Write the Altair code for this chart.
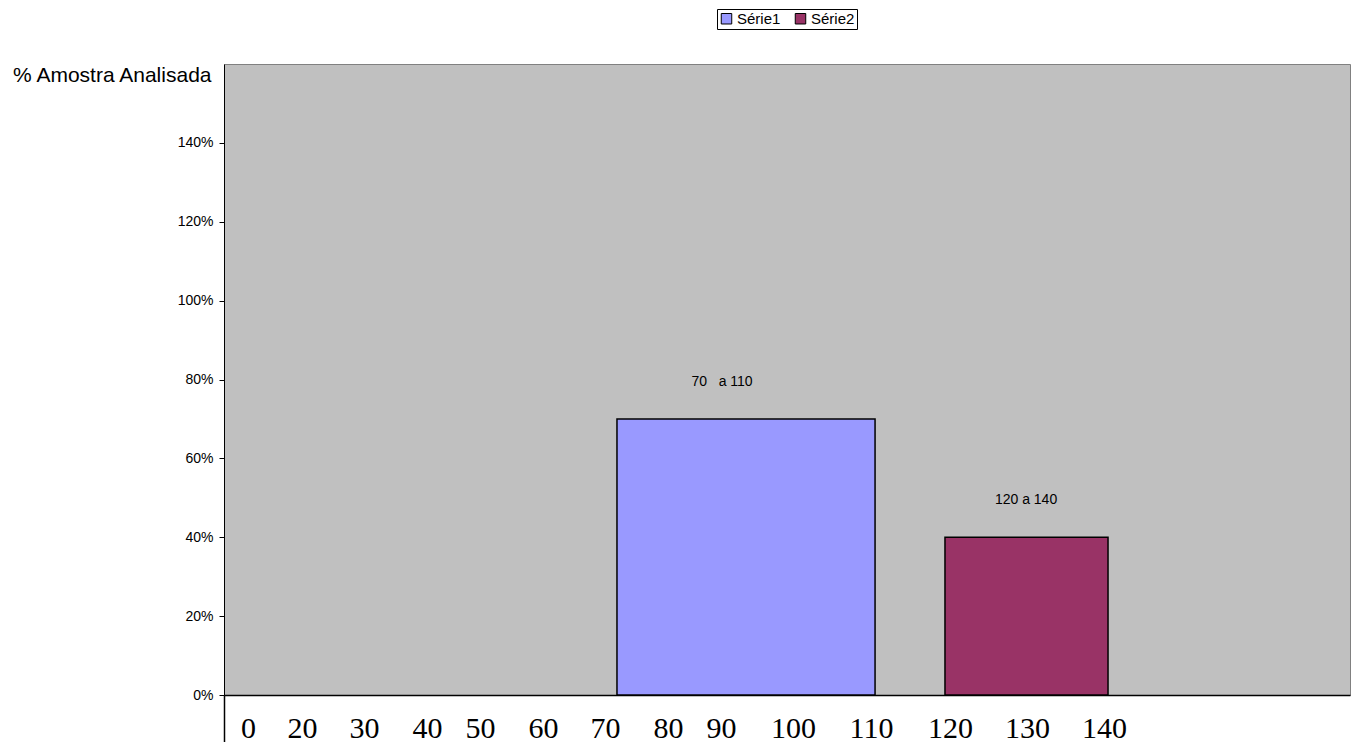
import altair as alt
import pandas as pd

# ---- data ----
series = ["Série1", "Série2"]
values = [0.70, 0.40]
bar_start = [34.90, 64.03]   # horizontal position (0-100 of plot width)
bar_end = [57.82, 78.51]
bar_labels = ["70\u00a0\u00a0 a 110", "120 a 140"]
bar_label_x = [44.23, 71.23]
colors = ["#9999FF", "#993366"]

x_tick_text = ["0", "20", "30", "40", "50", "60", "70", "80", "90", "100", "110", "120", "130", "140"]
x_tick_pos = [2.13, 6.93, 12.43, 18.03, 22.74, 28.33, 33.84, 39.43, 44.14, 50.53, 57.46, 64.48, 71.31, 78.15]
y_ticks = [0, 0.2, 0.4, 0.6, 0.8, 1.0, 1.2, 1.4]

df = pd.DataFrame({
    "serie": series,
    "valor": values,
    "x0": bar_start,
    "x1": bar_end,
    "rotulo": bar_labels,
    "xl": bar_label_x,
})

tick_values = [0] + x_tick_pos
tick_texts = [""] + x_tick_text
label_expr = ("[" + ",".join(f"'{t}'" for t in tick_texts) + "][indexof(["
              + ",".join(str(p) for p in tick_values) + "], datum.value)]")

xscale = alt.Scale(domain=[0, 100], nice=False, zero=False)
yscale = alt.Scale(domain=[0, 1.6], nice=False)

x_axis = alt.Axis(
    values=tick_values, labelExpr=label_expr, title=None, grid=False,
    tickSize=48, tickColor="black", tickWidth=1.5,
    tickOpacity={"condition": {"test": "datum.value == 0", "value": 1}, "value": 0},
    domainColor="black", domainWidth=1.5,
    labelFont="Liberation Serif", labelFontSize=30, labelColor="black",
    labelBaseline="alphabetic", labelPadding=-6,
    labelOverlap=False, labelFlush=False, labelBound=False,
)

y_axis = alt.Axis(
    values=y_ticks, format=".0%", grid=False,
    labelFont="Liberation Sans", labelFontSize=14, labelColor="black", labelPadding=6,
    tickColor="black", tickSize=5, domainColor="black", domainWidth=1,
    title="% Amostra Analisada", titleAngle=0, titleAlign="right", titleBaseline="middle",
    titleX=-13, titleY=11, titleFont="Liberation Sans", titleFontSize=21,
    titleFontWeight="normal", titleColor="black",
)

legend = alt.Legend(
    title=None, orient="none", legendX=493, legendY=-55, direction="horizontal",
    symbolType="square", symbolSize=110, symbolStrokeColor="black", symbolStrokeWidth=1,
    labelFont="Liberation Sans", labelFontSize=15, labelColor="black", labelOffset=3,
    strokeColor="black", fillColor="white", padding=2, columnPadding=12,
)

bars = alt.Chart(df).mark_rect(stroke="black", strokeWidth=1.5).encode(
    x=alt.X("x0:Q", scale=xscale, axis=x_axis),
    x2="x1:Q",
    y=alt.Y("valor:Q", scale=yscale, axis=y_axis),
    y2=alt.datum(0),
    color=alt.Color("serie:N", scale=alt.Scale(domain=series, range=colors), legend=legend),
)

labels = alt.Chart(df).mark_text(
    dy=-37, fontSize=14, font="Liberation Sans", color="black", baseline="middle"
).encode(
    x=alt.X("xl:Q", scale=xscale),
    y=alt.Y("valor:Q", scale=yscale),
    text="rotulo:N",
)

chart = (bars + labels).properties(
    width=1126, height=631,
    autosize=alt.AutoSizeParams(type="none"),
    padding={"left": 224, "top": 64, "right": 6, "bottom": 47},
    background="white",
).configure_view(fill="#C0C0C0", stroke="#808080", strokeWidth=1)

chart.save("out.html", embed_options={"renderer": "svg", "actions": False})
